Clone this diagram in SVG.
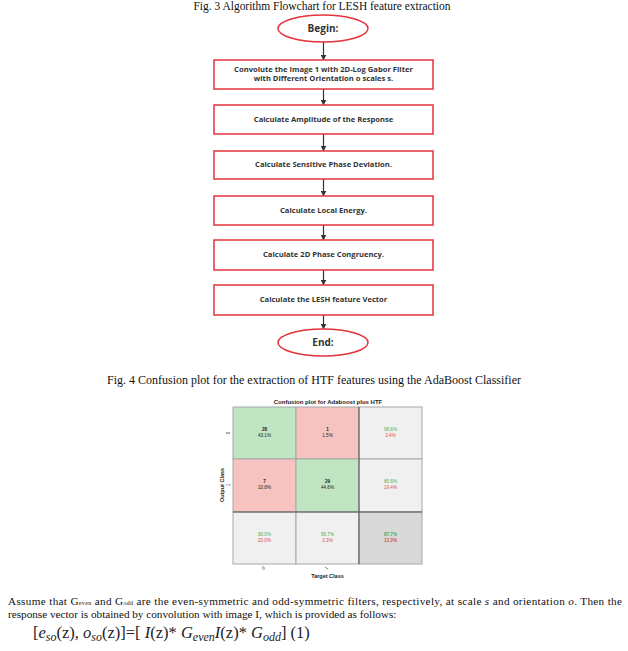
<svg xmlns="http://www.w3.org/2000/svg" width="628" height="651" viewBox="0 0 628 651">
<style>
.cap{font-family:"Liberation Serif",serif;font-size:12px;fill:#111}
.box{fill:#fff;stroke:#e5323b;stroke-width:1.5}
.bt{font-family:"Open Sans","Liberation Sans",sans-serif;font-size:7.6px;font-weight:bold;fill:#333;text-anchor:middle}
.et{font-family:"Open Sans","Liberation Sans",sans-serif;font-size:10px;font-weight:bold;fill:#333;text-anchor:middle}
.arr{stroke:#333;stroke-width:1.2;fill:none;marker-end:url(#ah)}
.cm{font-family:"Liberation Sans",sans-serif;font-size:4.6px;text-anchor:middle}
.g{fill:#4caf50}.r{fill:#d9534f}.k{fill:#222}
.cell{stroke:#a8a8a8;stroke-width:1}
.body{font-family:"Liberation Serif",serif;font-size:11.2px;fill:#111}
.eq{font-family:"Liberation Serif",serif;font-size:16.5px;fill:#222}
</style>
<defs>
<marker id="ah" viewBox="0 0 10 10" refX="9" refY="5" markerWidth="5" markerHeight="5" orient="auto">
<path d="M0,0 L10,5 L0,10 z" fill="#333"/>
</marker>
</defs>
<text class="cap" x="322" y="10" text-anchor="middle" textLength="257" lengthAdjust="spacingAndGlyphs">Fig. 3 Algorithm Flowchart for LESH feature extraction</text>

<g id="connectors">
<line class="arr" x1="323.5" y1="42" x2="323.5" y2="60"/>
<line class="arr" x1="323.5" y1="89" x2="323.5" y2="105"/>
<line class="arr" x1="323.5" y1="134" x2="323.5" y2="151"/>
<line class="arr" x1="323.5" y1="179" x2="323.5" y2="196"/>
<line class="arr" x1="323.5" y1="225" x2="323.5" y2="240"/>
<line class="arr" x1="323.5" y1="270" x2="323.5" y2="285"/>
<line class="arr" x1="323.5" y1="315" x2="323.5" y2="329"/>
</g>

<g id="begin"><ellipse class="box" cx="323" cy="28.5" rx="45" ry="13.5"/><text class="et" x="323" y="32">Begin:</text></g>
<g id="step1"><rect class="box" x="214" y="60" width="219" height="29"/><text class="bt" x="323.5" y="72">Convolute the Image 1 with 2D-Log Gabor Filter</text><text class="bt" x="323.5" y="81">with Different Orientation o scales s.</text></g>
<g id="step2"><rect class="box" x="214" y="105" width="219" height="29"/><text class="bt" x="323.5" y="122">Calculate Amplitude of the Response</text></g>
<g id="step3"><rect class="box" x="214" y="151" width="219" height="28"/><text class="bt" x="323.5" y="167">Calculate Sensitive Phase Deviation.</text></g>
<g id="step4"><rect class="box" x="214" y="196" width="219" height="29"/><text class="bt" x="323.5" y="213">Calculate Local Energy.</text></g>
<g id="step5"><rect class="box" x="214" y="240" width="219" height="30"/><text class="bt" x="323.5" y="257">Calculate 2D Phase Congruency.</text></g>
<g id="step6"><rect class="box" x="214" y="285" width="219" height="30"/><text class="bt" x="323.5" y="302">Calculate the LESH feature Vector</text></g>
<g id="end"><ellipse class="box" cx="323" cy="342.5" rx="45" ry="13.5"/><text class="et" x="323" y="346">End:</text></g>

<text class="cap" x="314" y="384" text-anchor="middle">Fig. 4 Confusion plot for the extraction of HTF features using the AdaBoost Classifier</text>

<g id="confusion">
<text x="328" y="404" font-family="Liberation Sans,sans-serif" font-size="6px" font-weight="bold" text-anchor="middle" fill="#222">Confusion plot for Adaboost plus HTF</text>
<rect class="cell" x="233" y="407" width="63" height="52" fill="#bfe5c3"/>
<rect class="cell" x="296" y="407" width="63" height="52" fill="#f6c3c0"/>
<rect class="cell" x="359" y="407" width="63" height="52" fill="#f0f0f0"/>
<rect class="cell" x="233" y="459" width="63" height="53" fill="#f6c3c0"/>
<rect class="cell" x="296" y="459" width="63" height="53" fill="#bfe5c3"/>
<rect class="cell" x="359" y="459" width="63" height="53" fill="#f0f0f0"/>
<rect class="cell" x="233" y="512" width="63" height="52" fill="#f0f0f0"/>
<rect class="cell" x="296" y="512" width="63" height="52" fill="#f0f0f0"/>
<rect class="cell" x="359" y="512" width="63" height="52" fill="#d9d9d9"/>
<line x1="359" y1="407" x2="359" y2="564" stroke="#555" stroke-width="1"/>
<line x1="233" y1="512" x2="422" y2="512" stroke="#555" stroke-width="1"/>

<text class="cm k" x="264.5" y="431" font-weight="bold">28</text><text class="cm k" x="264.5" y="437">43.1%</text>
<text class="cm k" x="327.5" y="431" font-weight="bold">1</text><text class="cm k" x="327.5" y="437">1.5%</text>
<text class="cm g" x="390.5" y="431">96.6%</text><text class="cm r" x="390.5" y="437">3.4%</text>
<text class="cm k" x="264.5" y="483" font-weight="bold">7</text><text class="cm k" x="264.5" y="489">10.8%</text>
<text class="cm k" x="327.5" y="483" font-weight="bold">29</text><text class="cm k" x="327.5" y="489">44.6%</text>
<text class="cm g" x="390.5" y="483">80.6%</text><text class="cm r" x="390.5" y="489">19.4%</text>
<text class="cm g" x="264.5" y="536">80.0%</text><text class="cm r" x="264.5" y="542">20.0%</text>
<text class="cm g" x="327.5" y="536">96.7%</text><text class="cm r" x="327.5" y="542">3.3%</text>
<text class="cm g" x="390.5" y="536" font-weight="bold">87.7%</text><text class="cm r" x="390.5" y="542" font-weight="bold">12.3%</text>

<text class="cm k" transform="translate(230,433) rotate(-90)">0</text>
<text class="cm k" transform="translate(230,485) rotate(-90)">1</text>
<text transform="translate(223.5,485) rotate(-90)" font-family="Liberation Sans,sans-serif" font-size="5.5px" font-weight="bold" text-anchor="middle" fill="#222">Output Class</text>
<text class="cm k" transform="translate(264.5,569) rotate(-45)">0</text>
<text class="cm k" transform="translate(327.5,569) rotate(-45)">1</text>
<text x="327.5" y="578" font-family="Liberation Sans,sans-serif" font-size="5.5px" font-weight="bold" text-anchor="middle" fill="#222">Target Class</text>
</g>

<text class="body" x="8" y="605" textLength="614" lengthAdjust="spacing">Assume that G<tspan font-size="6px">even</tspan> and G<tspan font-size="6px">odd</tspan> are the even-symmetric and odd-symmetric filters, respectively, at scale <tspan font-style="italic">s</tspan> and orientation <tspan font-style="italic">o</tspan>. Then the</text>
<text class="body" x="8" y="618">response vector is obtained by convolution with image I, which is provided as follows:</text>
<text class="eq" x="33" y="638">[<tspan font-style="italic">e</tspan><tspan font-style="italic" font-size="12px" dy="3">so</tspan><tspan dy="-3">(z), </tspan><tspan font-style="italic">o</tspan><tspan font-style="italic" font-size="12px" dy="3">so</tspan><tspan dy="-3">(z)]=[ </tspan><tspan font-style="italic">I</tspan>(z)* <tspan font-style="italic">G</tspan><tspan font-style="italic" font-size="12px" dy="3">even</tspan><tspan font-style="italic" dy="-3">I</tspan>(z)* <tspan font-style="italic">G</tspan><tspan font-style="italic" font-size="12px" dy="3">odd</tspan><tspan dy="-3">]  (1)</tspan></text>
</svg>
